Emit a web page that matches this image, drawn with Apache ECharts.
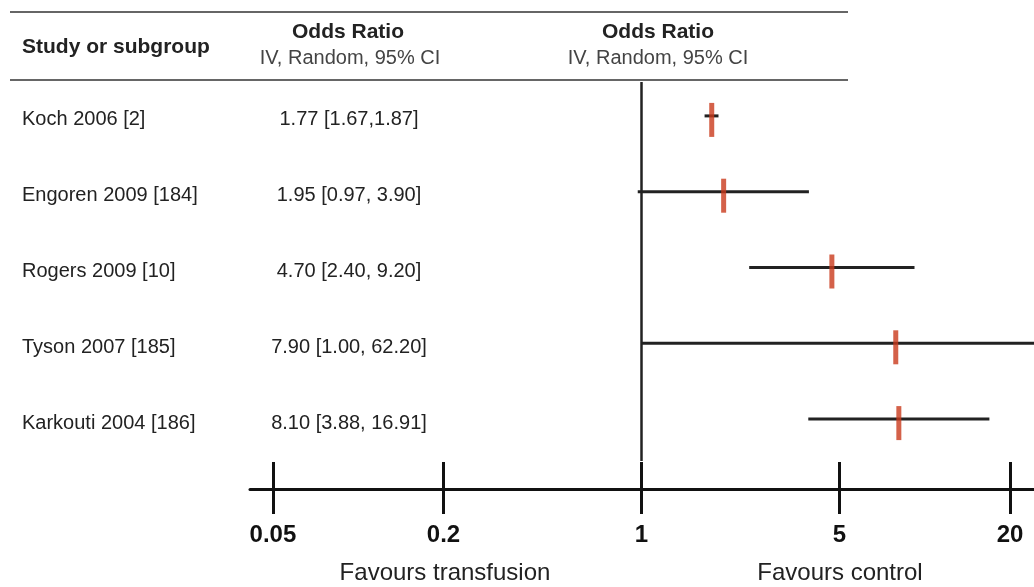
<!DOCTYPE html>
<html>
<head>
<meta charset="utf-8">
<script src="https://cdn.jsdelivr.net/npm/echarts@6/dist/echarts.min.js"></script>
<style>
html, body { margin: 0; padding: 0; background: #fff; }
#main { width: 1034px; height: 587px; }
</style>
</head>
<body>
<div id="main"></div>
<script>
var studies = ['Koch 2006 [2]', 'Engoren 2009 [184]', 'Rogers 2009 [10]', 'Tyson 2007 [185]', 'Karkouti 2004 [186]'];
var ciText = ['1.77 [1.67,1.87]', '1.95 [0.97, 3.90]', '4.70 [2.40, 9.20]', '7.90 [1.00, 62.20]', '8.10 [3.88, 16.91]'];
var oddsRatio = [1.77, 1.95, 4.70, 7.90, 8.10];
var ciLow = [1.67, 0.97, 2.40, 1.00, 3.88];
var ciHigh = [1.87, 3.90, 9.20, 62.20, 16.91];
var tickValues = [0.05, 0.2, 1, 5, 20];
var axisMin = 0.0415, axisMax = 24.3; // axis runs a bit past 0.05 and 20

var FONT = '"Liberation Sans", Arial, sans-serif';
var lg = function (v) { return Math.log10(v); };
var tickLog = tickValues.map(lg);

function tickName(v) {
	for (var i = 0; i < tickValues.length; i++) {
		if (Math.abs(tickLog[i] - v) < 1e-6) return String(tickValues[i]);
	}
	return '';
}

var chart = echarts.init(document.getElementById('main'));

var ciData = studies.map(function (s, i) { return [lg(ciLow[i]), lg(ciHigh[i]), i]; });
var orData = studies.map(function (s, i) { return [lg(oddsRatio[i]), i]; });

var option = {
	backgroundColor: '#fff',
	animation: false,
	grid: { left: 250, right: 0, top: 82, bottom: 126 },
	xAxis: [{
		type: 'value',
		min: lg(axisMin),
		max: lg(axisMax),
		position: 'bottom',
		offset: 28,
		splitLine: { show: false },
		axisLine: { show: true, onZero: false, lineStyle: { color: '#111', width: 3 } },
		axisTick: { show: true, customValues: tickLog, length: 25, lineStyle: { color: '#111', width: 3 } },
		axisLabel: {
			customValues: tickLog,
			formatter: tickName,
			margin: 34,
			fontFamily: FONT,
			fontSize: 24,
			fontWeight: 'bold',
			color: '#111'
		}
	}, {
		type: 'value',
		min: lg(axisMin),
		max: lg(axisMax),
		position: 'bottom',
		offset: 28,
		splitLine: { show: false },
		axisLine: { show: false },
		axisTick: { show: true, customValues: tickLog, inside: true, length: 27, lineStyle: { color: '#111', width: 3 } },
		axisLabel: { show: false }
	}],
	yAxis: [{
		type: 'category',
		data: studies,
		inverse: true,
		axisLine: { show: false },
		axisTick: { show: false },
		splitLine: { show: false },
		axisLabel: { align: 'left', margin: 228, fontFamily: FONT, fontSize: 20, color: '#222' }
	}, {
		type: 'category',
		data: ciText,
		inverse: true,
		position: 'left',
		axisLine: { show: false },
		axisTick: { show: false },
		splitLine: { show: false },
		axisLabel: { align: 'center', margin: -99, fontFamily: FONT, fontSize: 20, color: '#222' }
	}],
	graphic: [
		{ type: 'line', shape: { x1: 10, y1: 12, x2: 848, y2: 12 }, style: { stroke: '#666', lineWidth: 2 } },
		{ type: 'line', shape: { x1: 10, y1: 80, x2: 848, y2: 80 }, style: { stroke: '#666', lineWidth: 2 } },
		{ type: 'text', x: 22, y: 47, style: { text: 'Study or subgroup', font: 'bold 21px ' + FONT, fill: '#222', verticalAlign: 'middle' } },
		{ type: 'text', x: 348, y: 32, style: { text: 'Odds Ratio', font: 'bold 21px ' + FONT, fill: '#222', align: 'center', verticalAlign: 'middle' } },
		{ type: 'text', x: 350, y: 58, style: { text: 'IV, Random, 95% CI', font: '20px ' + FONT, fill: '#444', align: 'center', verticalAlign: 'middle' } },
		{ type: 'text', x: 658, y: 32, style: { text: 'Odds Ratio', font: 'bold 21px ' + FONT, fill: '#222', align: 'center', verticalAlign: 'middle' } },
		{ type: 'text', x: 658, y: 58, style: { text: 'IV, Random, 95% CI', font: '20px ' + FONT, fill: '#444', align: 'center', verticalAlign: 'middle' } },
		{ type: 'text', x: 445, y: 573, style: { text: 'Favours transfusion', font: '24px ' + FONT, fill: '#222', align: 'center', verticalAlign: 'middle' } },
		{ type: 'text', x: 840, y: 573, style: { text: 'Favours control', font: '24px ' + FONT, fill: '#222', align: 'center', verticalAlign: 'middle' } }
	],
	series: [{
		type: 'custom',
		name: 'CI',
		clip: true,
		encode: { x: [0, 1], y: 2 },
		data: ciData,
		renderItem: function (params, api) {
			var a = api.coord([api.value(0), api.value(2)]);
			var b = api.coord([api.value(1), api.value(2)]);
			return {
				type: 'line',
				shape: { x1: a[0], y1: a[1] - 4, x2: b[0], y2: b[1] - 4 },
				style: { stroke: '#222', lineWidth: 3 }
			};
		}
	}, {
		type: 'scatter',
		name: 'Odds Ratio',
		data: orData,
		symbol: 'rect',
		symbolSize: [5, 34],
		itemStyle: { color: '#c93a1b' },
		z: 3,
		markLine: {
			silent: true,
			symbol: 'none',
			label: { show: false },
			lineStyle: { color: '#222', width: 2.5, type: 'solid' },
			data: [{ xAxis: 0 }]
		}
	}]
};

chart.setOption(option);
</script>
</body>
</html>
